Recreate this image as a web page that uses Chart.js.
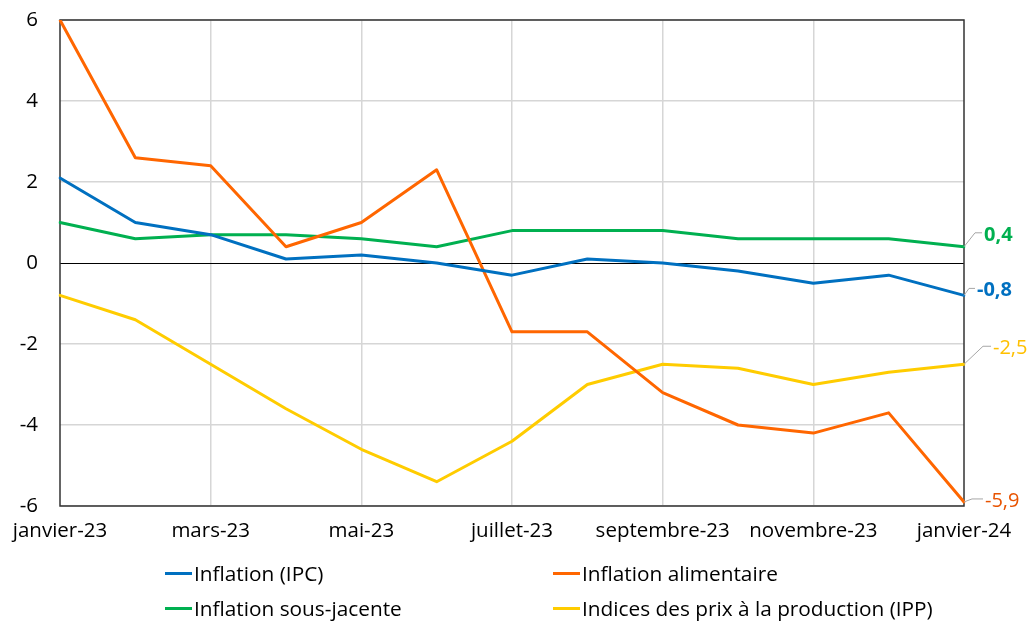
<!DOCTYPE html>
<html>
<head>
<meta charset="utf-8">
<script src="https://cdn.jsdelivr.net/npm/chart.js@4/dist/chart.umd.min.js"></script>
<style>
  body { margin: 0; background: #fff; }
  #wrap { position: relative; width: 1027px; height: 622px; }
  #legend { position: absolute; left: 0; top: 0; width: 1027px; height: 622px; pointer-events: none;
            font-family: "Open Sans", "Noto Sans", sans-serif; font-size: 20.8px; color: #000; }
  .item { position: absolute; display: flex; align-items: center; white-space: nowrap; height: 24px; }
  .swatch { width: 27px; height: 3px; margin-right: 2px; }
</style>
</head>
<body>
<div id="wrap">
  <canvas id="lineChart" width="1027" height="622"></canvas>
  <div id="legend"></div>
</div>
<script>
// Data Setup
const months = ['janvier-23', 'février-23', 'mars-23', 'avril-23', 'mai-23', 'juin-23', 'juillet-23',
	'août-23', 'septembre-23', 'octobre-23', 'novembre-23', 'décembre-23', 'janvier-24'];
const ipc = [2.1, 1.0, 0.7, 0.1, 0.2, 0.0, -0.3, 0.1, 0.0, -0.2, -0.5, -0.3, -0.8];
const alimentaire = [6.0, 2.6, 2.4, 0.4, 1.0, 2.3, -1.7, -1.7, -3.2, -4.0, -4.2, -3.7, -5.9];
const sousJacente = [1.0, 0.6, 0.7, 0.7, 0.6, 0.4, 0.8, 0.8, 0.8, 0.6, 0.6, 0.6, 0.4];
const ipp = [-0.8, -1.4, -2.5, -3.6, -4.6, -5.4, -4.4, -3.0, -2.5, -2.6, -3.0, -2.7, -2.5];
const yTicks = [-6, -4, -2, 0, 2, 4, 6];

const FONT = '"Open Sans", "Noto Sans", sans-serif';

// legend (two columns, drawn as html)
const legendItems = [
	{ text: 'Inflation (IPC)', color: '#0070C0', x: 165, y: 573 },
	{ text: 'Inflation alimentaire', color: '#FF6600', x: 553, y: 573 },
	{ text: 'Inflation sous-jacente', color: '#00B050', x: 165, y: 608 },
	{ text: 'Indices des prix à la production (IPP)', color: '#FFCC00', x: 553, y: 608 }
];
const legend = document.getElementById('legend');
legendItems.forEach(it => {
	const d = document.createElement('div');
	d.className = 'item';
	d.style.left = it.x + 'px';
	d.style.top = (it.y - 12) + 'px';
	d.innerHTML = '<span class="swatch" style="background:' + it.color + '"></span><span>' + it.text + '</span>';
	legend.appendChild(d);
});

// labels at the end of each line, with a small grey leader
const endLabels = {
	id: 'endLabels',
	afterDatasetsDraw(chart) {
		const ctx = chart.ctx;
		chart.data.datasets.forEach((ds, i) => {
			const meta = chart.getDatasetMeta(i);
			const pt = meta.data[meta.data.length - 1];
			const o = ds.endLabel;
			const val = ds.data[ds.data.length - 1];
			const ly = pt.y + o.dy;
			ctx.save();
			ctx.strokeStyle = '#a6a6a6';
			ctx.lineWidth = 1;
			ctx.beginPath();
			ctx.moveTo(pt.x, pt.y);
			ctx.lineTo(pt.x + o.slope, ly);
			ctx.lineTo(pt.x + o.slope + o.run, ly);
			ctx.stroke();
			ctx.fillStyle = o.color;
			ctx.font = (o.bold ? 'bold ' : '') + '20px ' + FONT;
			ctx.textBaseline = 'middle';
			ctx.textAlign = 'left';
			ctx.fillText(val.toFixed(1).replace('.', ','), pt.x + o.slope + o.run + 2, ly + 2);
			ctx.restore();
		});
	}
};

// frame round the plot area + zero line
const frame = {
	id: 'frame',
	beforeDatasetsDraw(chart) {
		const { ctx, chartArea: a, scales } = chart;
		ctx.save();
		ctx.strokeStyle = '#000';
		ctx.lineWidth = 1;
		const y0 = Math.round(scales.y.getPixelForValue(0)) + 0.5;
		ctx.beginPath();
		ctx.moveTo(a.left, y0);
		ctx.lineTo(a.right, y0);
		ctx.stroke();
		ctx.strokeStyle = '#333';
		ctx.lineWidth = 1.5;
		ctx.strokeRect(Math.round(a.left), Math.round(a.top), Math.round(a.right - a.left), Math.round(a.bottom - a.top));
		ctx.restore();
	}
};

const ctxLine = document.getElementById('lineChart').getContext('2d');
const lineChart = new Chart(ctxLine, {
	type: 'line',
	data: {
		labels: months,
		datasets: [
			{ label: 'Inflation (IPC)', data: ipc, borderColor: '#0070C0',
				endLabel: { color: '#0070C0', bold: true, dy: -7, slope: 5, run: 6 } },
			{ label: 'Inflation alimentaire', data: alimentaire, borderColor: '#FF6600',
				endLabel: { color: '#E85300', bold: false, dy: -3, slope: 8, run: 11 } },
			{ label: 'Inflation sous-jacente', data: sousJacente, borderColor: '#00B050',
				endLabel: { color: '#00B050', bold: true, dy: -14, slope: 11, run: 7 } },
			{ label: 'Indices des prix à la production (IPP)', data: ipp, borderColor: '#FFCC00',
				endLabel: { color: '#FFC000', bold: false, dy: -18, slope: 19, run: 8 } }
		]
	},
	options: {
		responsive: false,
		animation: false,
		elements: {
			line: { borderWidth: 3, tension: 0, borderCapStyle: 'round', borderJoinStyle: 'round' },
			point: { radius: 0 }
		},
		layout: { padding: { left: 0, right: 63, top: 20, bottom: 0 } },
		plugins: {
			legend: { display: false },
			tooltip: { enabled: false }
		},
		scales: {
			x: {
				offset: false,
				grid: {
					drawTicks: false,
					lineWidth: 1.5,
					color: c => (c.index % 2 === 0 && c.index > 0 && c.index < months.length - 1) ? '#d6d6d6' : 'rgba(0,0,0,0)'
				},
				border: { display: false },
				ticks: {
					autoSkip: false,
					maxRotation: 0,
					padding: 13,
					color: '#000',
					font: { family: FONT, size: 20.5 },
					callback: function (v, i) { return i % 2 === 0 ? months[i] : ''; }
				},
				afterFit: s => { s.height = 116; s.paddingLeft = 0; s.paddingRight = 0; }
			},
			y: {
				min: -6,
				max: 6,
				afterBuildTicks: s => { s.ticks = yTicks.map(v => ({ value: v })); },
				grid: {
					drawTicks: false,
					lineWidth: 1.5,
					color: c => (c.tick && c.tick.value === 0) ? 'rgba(0,0,0,0)' : '#d6d6d6'
				},
				border: { display: false },
				ticks: {
					padding: 22,
					color: '#000',
					font: { family: FONT, size: 20.5 }
				},
				afterFit: s => { s.width = 60; s.paddingTop = 0; s.paddingBottom = 0; }
			}
		}
	},
	plugins: [frame, endLabels]
});
</script>
</body>
</html>
